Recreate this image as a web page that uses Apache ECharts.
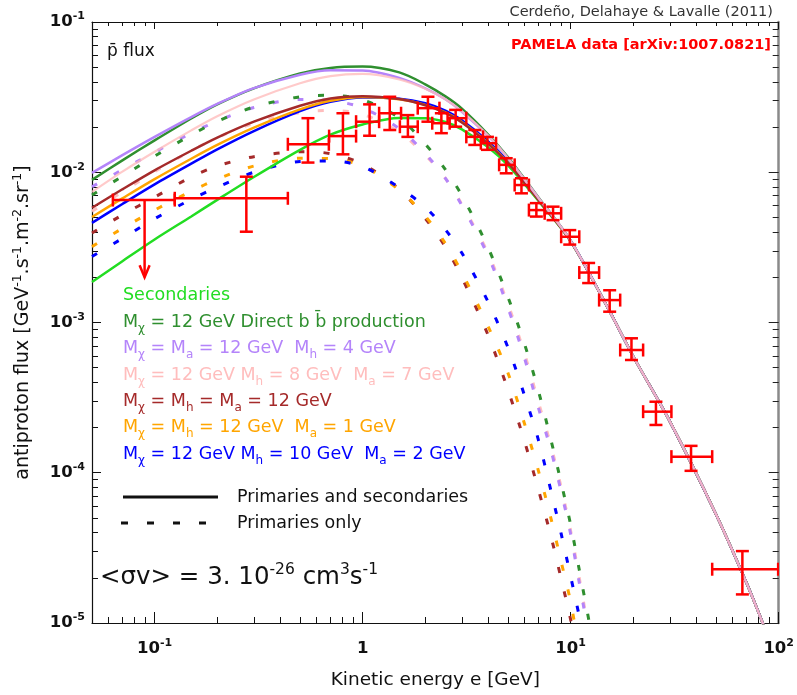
<!DOCTYPE html>
<html><head><meta charset="utf-8">
<script src="https://cdn.jsdelivr.net/npm/echarts@6/dist/echarts.min.js"></script>
<style>html,body{margin:0;padding:0;background:#fff}#c{width:797px;height:695px}</style>
</head><body><div id="c"></div>
<script>
const FONT = 'DejaVu Sans';

// ---- tick values ----
const xMajorTicks = [0.1, 1, 10, 100];
const xMinorTicks = [0.06,0.07,0.08,0.09,0.2,0.3,0.4,0.5,0.6,0.7,0.8,0.9,2,3,4,5,6,7,8,9,20,30,40,50,60,70,80,90];
const yMajorTicks = [1e-5, 1e-4, 1e-3, 1e-2, 1e-1];
const yMinorTicks = [2e-5,3e-5,4e-5,5e-5,6e-5,7e-5,8e-5,9e-5,2e-4,3e-4,4e-4,5e-4,6e-4,7e-4,8e-4,9e-4,2e-3,3e-3,4e-3,5e-3,6e-3,7e-3,8e-3,9e-3,0.02,0.03,0.04,0.05,0.06,0.07,0.08,0.09];

// ---- solid curves (primaries + secondaries) ----
const solidE      = [0.05, 0.07, 0.1, 0.15, 0.2, 0.3, 0.5, 0.7, 1, 1.5, 2, 2.5, 3, 4, 5, 7, 10, 15, 20, 30, 50, 70, 85];
const secondaries = [1.86e-3, 2.56e-3, 3.57e-3, 5.08e-3, 6.55e-3, 9.3e-3, 0.0141, 0.0178, 0.0208, 0.0230, 0.0229, 0.0216, 0.0193, 0.0147, 0.0111, 6.45e-3, 3.47e-3, 1.27e-3, 5.94e-4, 2.19e-4, 5.28e-5, 1.85e-5, 9.5e-6];
const totBB       = [8.9e-3, 0.0120, 0.0163, 0.0228, 0.0283, 0.0362, 0.0455, 0.0495, 0.0505, 0.0462, 0.0385, 0.0320, 0.0265, 0.0179, 0.0126, 6.8e-3, 3.5e-3, 1.27e-3, 5.94e-4, 2.19e-4, 5.28e-5, 1.85e-5, 9.5e-6];
const totPurple   = [9.9e-3, 0.0130, 0.0172, 0.0233, 0.0285, 0.0363, 0.0446, 0.0478, 0.0476, 0.0425, 0.0362, 0.0306, 0.0253, 0.0175, 0.0124, 6.75e-3, 3.5e-3, 1.27e-3, 5.94e-4, 2.19e-4, 5.28e-5, 1.85e-5, 9.5e-6];
const totPink     = [7.4e-3, 0.0101, 0.0137, 0.0190, 0.0236, 0.0305, 0.0391, 0.0436, 0.0451, 0.0415, 0.0360, 0.0306, 0.0254, 0.0176, 0.0124, 6.75e-3, 3.5e-3, 1.27e-3, 5.94e-4, 2.19e-4, 5.28e-5, 1.85e-5, 9.5e-6];
const totBrown    = [5.8e-3, 7.7e-3, 0.0103, 0.0139, 0.0170, 0.0217, 0.0277, 0.0310, 0.0321, 0.0307, 0.0279, 0.0248, 0.0214, 0.0155, 0.0115, 6.55e-3, 3.47e-3, 1.27e-3, 5.94e-4, 2.19e-4, 5.28e-5, 1.85e-5, 9.5e-6];
const totOrange   = [5.04e-3, 6.7e-3, 9.0e-3, 0.0123, 0.0152, 0.0198, 0.0262, 0.0299, 0.0317, 0.0306, 0.0281, 0.0250, 0.0216, 0.0157, 0.0116, 6.6e-3, 3.48e-3, 1.27e-3, 5.94e-4, 2.19e-4, 5.28e-5, 1.85e-5, 9.5e-6];
const totBlue     = [4.6e-3, 6.15e-3, 8.3e-3, 0.0114, 0.0142, 0.0188, 0.0255, 0.0294, 0.0315, 0.0309, 0.0288, 0.0257, 0.0222, 0.0161, 0.0118, 6.67e-3, 3.49e-3, 1.27e-3, 5.94e-4, 2.19e-4, 5.28e-5, 1.85e-5, 9.5e-6];

// ---- dashed curves (primaries only) ----
const dashE      = [0.05, 0.07, 0.1, 0.15, 0.2, 0.3, 0.5, 0.7, 1, 1.5, 2, 2.5, 3, 4, 5, 6, 7, 8, 9, 10, 11, 12, 13];
const primBB     = [7.06e-3, 9.4e-3, 0.0128, 0.0177, 0.0218, 0.0272, 0.0318, 0.0325, 0.0303, 0.0230, 0.0154, 0.0104, 7.0e-3, 3.17e-3, 1.47e-3, 7.2e-4, 3.5e-4, 1.7e-4, 8.6e-5, 4.5e-5, 2.26e-5, 1.2e-5, 6.7e-6];
const primPurple = [8.0e-3, 0.0104, 0.0136, 0.0182, 0.0219, 0.0270, 0.0305, 0.0300, 0.0268, 0.0195, 0.0133, 9.1e-3, 6.0e-3, 2.8e-3, 1.25e-3, 5.8e-4, 2.7e-4, 1.45e-4, 7.5e-5, 3.9e-5, 1.85e-5, 9.6e-6, null];
const primPink   = [5.5e-3, 7.4e-3, 0.0101, 0.0139, 0.0170, 0.0212, 0.0250, 0.0258, 0.0243, 0.0185, 0.0130, 9.1e-3, 6.1e-3, 2.9e-3, 1.32e-3, 6.2e-4, 2.95e-4, 1.55e-4, 8.0e-5, 4.1e-5, 2.0e-5, 1.0e-5, 5e-6];
const primBrown  = [3.94e-3, 5.2e-3, 6.83e-3, 9.3e-3, 0.0110, 0.0127, 0.0137, 0.0133, 0.0113, 7.7e-3, 4.93e-3, 3.18e-3, 1.99e-3, 8.3e-4, 3.55e-4, 1.62e-4, 7.7e-5, 3.88e-5, 1.97e-5, 1.05e-5, 5e-6, null, null];
const primOrange = [3.2e-3, 4.23e-3, 5.6e-3, 7.47e-3, 9.0e-3, 0.0110, 0.0124, 0.0123, 0.0110, 7.6e-3, 5.1e-3, 3.35e-3, 2.15e-3, 9.5e-4, 4.6e-4, 2.12e-4, 1.03e-4, 5.1e-5, 2.56e-5, 1.38e-5, 6.5e-6, null, null];
const primBlue   = [2.75e-3, 3.63e-3, 4.9e-3, 6.6e-3, 7.95e-3, 0.0100, 0.0118, 0.0119, 0.0109, 7.9e-3, 5.86e-3, 4.15e-3, 2.9e-3, 1.38e-3, 6.8e-4, 3.27e-4, 1.65e-4, 7.8e-5, 3.93e-5, 2.04e-5, 1.1e-5, 5.5e-6, null];

// ---- PAMELA data ----
const pamE    = [0.276, 0.546, 0.804, 1.08, 1.35, 1.65, 2.06, 2.39, 2.80, 3.46, 3.98, 4.90, 5.80, 6.84, 8.23, 9.90, 12.2, 15.4, 19.6, 25.7, 37.9, 66.9];
const pamFlux = [6.71e-3, 0.01535, 0.0174, 0.0217, 0.0247, 0.0201, 0.0267, 0.0212, 0.0229, 0.0172, 0.0156, 0.0112, 8.22e-3, 5.6e-3, 5.33e-3, 3.72e-3, 2.15e-3, 1.41e-3, 6.56e-4, 2.55e-4, 1.28e-4, 2.28e-5];
const pamElo  = [0.125, 0.437, 0.69, 0.93, 1.2, 1.51, 1.84, 2.16, 2.56, 3.15, 3.7, 4.53, 5.38, 6.3, 7.5, 9.0, 11.0, 13.7, 17.3, 22.3, 30.5, 47.9];
const pamEhi  = [0.437, 0.688, 0.93, 1.2, 1.53, 1.84, 2.34, 2.62, 3.15, 3.79, 4.38, 5.38, 6.3, 7.5, 9.0, 11.0, 13.7, 17.3, 22.3, 30.5, 47.9, 99.4];
const pamFlo  = [4.02e-3, 0.0116, 0.01316, 0.0175, 0.0191, 0.0172, 0.0217, 0.0182, 0.0201, 0.0152, 0.0141, 9.84e-3, 7.24e-3, 5.07e-3, 4.8e-3, 3.3e-3, 1.83e-3, 1.18e-3, 5.63e-4, 2.08e-4, 1.03e-4, 1.55e-5];
const pamFhi  = [9.34e-3, 0.0229, 0.0247, 0.0283, 0.0318, 0.024, 0.0318, 0.0247, 0.026, 0.0191, 0.0172, 0.0124, 9.12e-3, 6.23e-3, 5.9e-3, 4.12e-3, 2.49e-3, 1.64e-3, 7.85e-4, 2.97e-4, 1.51e-4, 3.01e-5];
// upper limit point
const ulE = [0.0895], ulFlux = [6.53e-3], ulElo = [0.063], ulEhi = [0.125], ulArrowTo = [2.0e-3];

// ---- colours ----
const C = {sec:'#22dd22', bb:'#2f8f2f', purple:'#b484fa', pink:'#ffbdbd', brown:'#a52a2a', orange:'#ffa500', blue:'#0000ff', data:'#ff0000'};

function rs(size, color, weight, extra){ return Object.assign({fontFamily:FONT, fontSize:size, color:color, fontWeight:weight||'normal'}, extra||{}); }
function powLabel(v){ const e = Math.round(Math.log10(v)); if (e === 0) return '{b|1}'; return '{b|10}{p|' + e + '}'; }
const tickRich = { b: rs(16.5,'#111','bold',{lineHeight:22}), p: rs(11,'#111','bold',{lineHeight:14, verticalAlign:'top'}) };

function pairs(xs, ys){ const out=[]; for (let i=0;i<xs.length;i++){ if (ys[i]!=null) out.push([xs[i], ys[i]]); } return out; }
function lineS(xs, ys, color, dashed, width, z, opacity){
  return {type:'line', data:pairs(xs,ys), xAxisIndex:0, yAxisIndex:0, showSymbol:false, symbol:'none', smooth:0.3,
    lineStyle:{color:color, width:width, type: dashed ? [6,19] : 'solid', opacity: opacity==null?1:opacity}, z:z, silent:true, clip:true, animation:false};
}

const cap = 6.5;
function errItem(params, api){
  const x = api.value(0), y = api.value(1), xl = api.value(2), xh = api.value(3), yl = api.value(4), yh = api.value(5);
  const L = api.coord([xl, y]), R = api.coord([xh, y]), T = api.coord([x, yh]), B = api.coord([x, yl]);
  const st = {stroke:C.data, lineWidth:2.5, fill:null};
  const ln = (a,b,c,d)=>({type:'line', shape:{x1:a,y1:b,x2:c,y2:d}, style:st});
  return {type:'group', children:[
    ln(L[0],L[1],R[0],R[1]), ln(T[0],T[1],B[0],B[1]),
    ln(L[0],L[1]-cap,L[0],L[1]+cap), ln(R[0],R[1]-cap,R[0],R[1]+cap),
    ln(T[0]-cap,T[1],T[0]+cap,T[1]), ln(B[0]-cap,B[1],B[0]+cap,B[1])
  ]};
}
function ulItem(params, api){
  const x = api.value(0), y = api.value(1), xl = api.value(2), xh = api.value(3), ya = api.value(4);
  const L = api.coord([xl, y]), R = api.coord([xh, y]), P = api.coord([x, y]), A = api.coord([x, ya]);
  const st = {stroke:C.data, lineWidth:2.5, fill:null};
  const ln = (a,b,c,d)=>({type:'line', shape:{x1:a,y1:b,x2:c,y2:d}, style:st});
  return {type:'group', children:[
    ln(L[0],L[1],R[0],R[1]),
    ln(L[0],L[1]-cap,L[0],L[1]+cap), ln(R[0],R[1]-cap,R[0],R[1]+cap),
    ln(P[0],P[1],A[0],A[1]),
    {type:'polyline', shape:{points:[[A[0]-5,A[1]-12],[A[0],A[1]],[A[0]+5,A[1]-12]]}, style:st}
  ]};
}

const pamData = pamE.map((e,i)=>[e, pamFlux[i], pamElo[i], pamEhi[i], pamFlo[i], pamFhi[i]]);
const ulData = ulE.map((e,i)=>[e, ulFlux[i], ulElo[i], ulEhi[i], ulArrowTo[i]]);

const logBase = {type:'log', logBase:10, splitLine:{show:false}, minorTick:{show:false}, minorSplitLine:{show:false}, axisPointer:{show:false}};
const xRange = {min:0.05, max:100};
const yRange = {min:1e-5, max:0.1};

const xAxes = [
  Object.assign({}, logBase, xRange, {position:'bottom',
    axisLine:{show:true, lineStyle:{color:'#111', width:1.2}},
    axisTick:{show:true, inside:true, length:11, customValues:xMajorTicks, lineStyle:{color:'#111', width:1}},
    axisLabel:{show:true, customValues:xMajorTicks, formatter:powLabel, margin:15, rich:tickRich},
    name:'Kinetic energy e [GeV]', nameLocation:'middle', nameGap:48,
    nameTextStyle:{fontFamily:FONT, fontSize:18.5, color:'#111', fontWeight:'normal'}}),
  Object.assign({}, logBase, xRange, {position:'bottom', axisLine:{show:false},
    axisTick:{show:true, inside:true, length:6, customValues:xMinorTicks, lineStyle:{color:'#111', width:1}}, axisLabel:{show:false}}),
  Object.assign({}, logBase, xRange, {position:'top', axisLine:{show:true, lineStyle:{color:'#111', width:1}},
    axisTick:{show:true, inside:true, length:7, customValues:xMajorTicks, lineStyle:{color:'#111', width:1}}, axisLabel:{show:false}}),
  Object.assign({}, logBase, xRange, {position:'top', axisLine:{show:false},
    axisTick:{show:true, inside:true, length:4, customValues:xMinorTicks, lineStyle:{color:'#111', width:1}}, axisLabel:{show:false}})
];
const yName = '{n|antiproton flux [GeV}{p|-1}{n|.s}{p|-1}{n|.m}{p|-2}{n|.sr}{p|-1}{n|]}';
const yAxes = [
  Object.assign({}, logBase, yRange, {position:'left',
    axisLine:{show:true, lineStyle:{color:'#111', width:1.2}},
    axisTick:{show:true, inside:true, length:9, customValues:yMajorTicks, lineStyle:{color:'#111', width:1}},
    axisLabel:{show:true, customValues:yMajorTicks, formatter:powLabel, margin:7, rich:tickRich},
    name:yName, nameLocation:'middle', nameGap:57, nameRotate:90,
    nameTextStyle:{fontFamily:FONT, fontSize:19, color:'#111',
      rich:{n:rs(19,'#111','normal',{lineHeight:24}), p:rs(12.5,'#111','normal',{lineHeight:14, verticalAlign:'top'})}}}),
  Object.assign({}, logBase, yRange, {position:'left', axisLine:{show:false},
    axisTick:{show:true, inside:true, length:6, customValues:yMinorTicks, lineStyle:{color:'#111', width:1}}, axisLabel:{show:false}}),
  Object.assign({}, logBase, yRange, {position:'right', axisLine:{show:true, lineStyle:{color:'#8a8a8a', width:2.5}},
    axisTick:{show:true, inside:true, length:10, customValues:yMajorTicks, lineStyle:{color:'#222', width:1}}, axisLabel:{show:false}}),
  Object.assign({}, logBase, yRange, {position:'right', axisLine:{show:false},
    axisTick:{show:true, inside:true, length:6, customValues:yMinorTicks, lineStyle:{color:'#222', width:1}}, axisLabel:{show:false}})
];

function legendTitle(text, color, cy){
  return {text:text, left:123, top:cy-13, padding:0,
    textStyle:{fontFamily:FONT, fontSize:17.5, color:color, fontWeight:'normal', lineHeight:26,
      rich:{n:rs(17.5,color,'normal',{lineHeight:26}), s:rs(12,color,'normal',{lineHeight:16, verticalAlign:'bottom'})}}};
}
const titles = [
  {text:'Cerdeño, Delahaye & Lavalle (2011)', right:24, top:3, padding:0, textStyle:{fontFamily:FONT, fontSize:14.5, color:'#333', fontWeight:'normal', lineHeight:18}},
  {text:'PAMELA data [arXiv:1007.0821]', right:26, top:36, padding:0, textStyle:{fontFamily:FONT, fontSize:14.5, color:'#ff0000', fontWeight:'bold', lineHeight:18}},
  {text:'p\u0304 flux', left:107, top:41, padding:0, textStyle:{fontFamily:FONT, fontSize:17, color:'#111', fontWeight:'normal', lineHeight:22}},
  legendTitle('{n|Secondaries}', C.sec, 295),
  legendTitle('{n|M}{s|χ}{n| = 12 GeV Direct b b\u0304 production}', C.bb, 322),
  legendTitle('{n|M}{s|χ}{n| = M}{s|a}{n| = 12 GeV  M}{s|h}{n| = 4 GeV}', C.purple, 348),
  legendTitle('{n|M}{s|χ}{n| = 12 GeV M}{s|h}{n| = 8 GeV  M}{s|a}{n| = 7 GeV}', C.pink, 375),
  legendTitle('{n|M}{s|χ}{n| = M}{s|h}{n| = M}{s|a}{n| = 12 GeV}', C.brown, 401),
  legendTitle('{n|M}{s|χ}{n| = M}{s|h}{n| = 12 GeV  M}{s|a}{n| = 1 GeV}', C.orange, 427),
  legendTitle('{n|M}{s|χ}{n| = 12 GeV M}{s|h}{n| = 10 GeV  M}{s|a}{n| = 2 GeV}', C.blue, 454),
  {text:'Primaries and secondaries', left:237, top:486, padding:0, textStyle:{fontFamily:FONT, fontSize:17.5, color:'#111', fontWeight:'normal', lineHeight:22}},
  {text:'Primaries only', left:237, top:512, padding:0, textStyle:{fontFamily:FONT, fontSize:17.5, color:'#111', fontWeight:'normal', lineHeight:22}},
  {text:'{n|<σv> = 3. 10}{p|-26}{n| cm}{p|3}{n|s}{p|-1}', left:100, top:562, padding:0,
    textStyle:{fontFamily:FONT, fontSize:24.5, color:'#111', fontWeight:'normal', lineHeight:32,
      rich:{n:rs(24.5,'#111','normal',{lineHeight:32}), p:rs(15.5,'#111','normal',{lineHeight:20, verticalAlign:'top'})}}}
];

const series = [
  lineS(dashE, primPink, C.pink, true, 3, 2),
  lineS(dashE, primPurple, C.purple, true, 3, 2),
  lineS(dashE, primBB, C.bb, true, 3, 2),
  lineS(dashE, primBrown, C.brown, true, 3, 2),
  lineS(dashE, primOrange, C.orange, true, 3, 2),
  lineS(dashE, primBlue, C.blue, true, 3, 2),
  lineS(solidE, secondaries, C.sec, false, 2.5, 3),
  lineS(solidE, totBlue, C.blue, false, 2.5, 3),
  lineS(solidE, totOrange, C.orange, false, 2.5, 3),
  lineS(solidE, totBrown, C.brown, false, 2.5, 3),
  lineS(solidE, totBB, C.bb, false, 2.5, 3),
  lineS(solidE, totPurple, C.purple, false, 2.5, 3),
  lineS(solidE, totPink, C.pink, false, 2.2, 3, 0.8),
  {type:'custom', renderItem:errItem, data:pamData, xAxisIndex:0, yAxisIndex:0, encode:{x:0, y:1}, z:5, clip:true, silent:true, animation:false},
  {type:'custom', renderItem:ulItem, data:ulData, xAxisIndex:0, yAxisIndex:0, encode:{x:0, y:1}, z:5, clip:true, silent:true, animation:false}
];

const chart = echarts.init(document.getElementById('c'), null, {renderer:'canvas', width:797, height:695});
chart.setOption({
  animation:false,
  backgroundColor:'#ffffff',
  title: titles,
  grid:{left:92, right:18, top:22, bottom:72, containLabel:false},
  xAxis: xAxes,
  yAxis: yAxes,
  series: series,
  graphic:[
    {type:'line', shape:{x1:123, y1:497, x2:218, y2:497}, style:{stroke:'#111', lineWidth:3}, z:10},
    {type:'line', shape:{x1:121, y1:523, x2:207, y2:523}, style:{stroke:'#111', lineWidth:3, lineDash:[7,19]}, z:10}
  ]
});
</script>
</body></html>
